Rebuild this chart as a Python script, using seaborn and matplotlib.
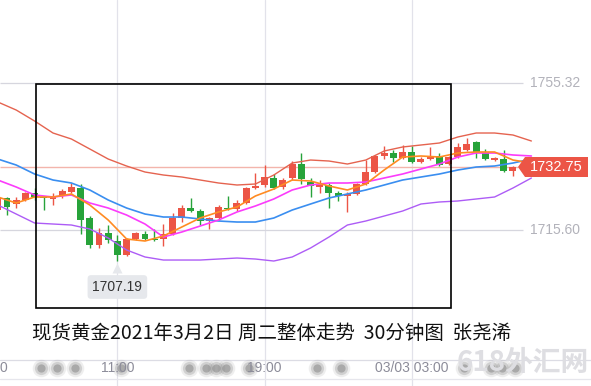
import numpy as np
import pandas as pd
import matplotlib
matplotlib.use("Agg")
import matplotlib.pyplot as plt
import matplotlib.patches as mpatches
import seaborn as sns

# === Data: 30-minute candles ===
opens = [1721.01, 1724.25, 1722.63, 1723.71, 1725.60, 1724.52, 1723.98, 1724.79, 1725.87, 1726.95,
         1718.85, 1711.55, 1714.79, 1712.63, 1708.85, 1713.17, 1714.52, 1713.17, 1713.17, 1714.52,
         1718.85, 1721.55, 1720.74, 1718.04, 1718.85, 1721.55, 1721.28, 1722.90, 1726.95, 1727.76,
         1729.65, 1727.22, 1729.65, 1733.44, 1728.57, 1727.22, 1727.76, 1725.60, 1724.79, 1725.33,
         1728.03, 1731.28, 1735.60, 1736.41, 1735.06, 1736.68, 1733.98, 1734.79, 1735.60, 1733.44,
         1735.33, 1737.22, 1739.38, 1736.41, 1734.52, 1734.79, 1731.55]
highs = [1724.79, 1724.52, 1724.52, 1725.87, 1726.95, 1724.79, 1725.60, 1726.68, 1728.30, 1728.03,
         1719.39, 1716.14, 1716.96, 1714.25, 1713.44, 1715.06, 1715.33, 1715.87, 1717.23, 1720.20,
         1722.36, 1724.25, 1721.28, 1719.12, 1722.36, 1724.79, 1723.71, 1727.22, 1731.01, 1733.17,
         1730.74, 1729.65, 1734.25, 1736.41, 1729.65, 1729.11, 1728.30, 1726.14, 1725.87, 1728.30,
         1734.52, 1735.87, 1738.30, 1737.22, 1738.57, 1738.30, 1735.33, 1738.03, 1736.41, 1735.60,
         1739.11, 1740.46, 1739.65, 1737.49, 1735.33, 1737.22, 1732.90]
lows = [1720.47, 1719.66, 1721.55, 1723.44, 1723.71, 1721.01, 1722.36, 1724.25, 1725.60, 1714.52,
        1710.74, 1710.74, 1712.09, 1707.19, 1708.58, 1712.90, 1712.90, 1712.63, 1711.28, 1714.25,
        1717.77, 1720.47, 1716.96, 1715.87, 1718.31, 1721.01, 1720.74, 1722.63, 1726.68, 1727.22,
        1726.68, 1726.68, 1729.11, 1728.03, 1724.52, 1725.60, 1721.55, 1723.44, 1720.47, 1725.06,
        1727.76, 1731.01, 1734.79, 1733.98, 1734.79, 1733.71, 1733.71, 1734.52, 1732.90, 1733.17,
        1735.06, 1736.95, 1735.06, 1734.52, 1734.25, 1731.28, 1730.19]
closes = [1724.25, 1721.82, 1723.71, 1725.60, 1724.52, 1724.25, 1724.79, 1726.14, 1727.22, 1718.31,
          1711.55, 1714.79, 1712.90, 1708.85, 1713.17, 1714.79, 1713.17, 1712.90, 1714.52, 1718.85,
          1721.55, 1720.74, 1718.04, 1718.85, 1721.82, 1721.28, 1722.90, 1726.95, 1727.49, 1729.92,
          1726.95, 1729.11, 1733.44, 1729.38, 1727.49, 1727.76, 1725.60, 1724.79, 1725.33, 1728.03,
          1731.28, 1735.60, 1736.41, 1735.06, 1736.68, 1733.98, 1734.79, 1735.60, 1733.17, 1735.33,
          1738.03, 1738.84, 1736.68, 1734.79, 1735.06, 1731.55, 1732.75]

# === Indicator lines, sampled every 2 candles ===
line_idx = list(range(0, 60, 2))
boll_upper = [1750.19, 1748.02, 1745.05, 1741.81, 1740.19, 1737.49, 1734.78, 1732.89, 1731.27, 1730.46,
              1729.92, 1729.11, 1728.30, 1727.76, 1728.03, 1730.46, 1733.70, 1734.51, 1734.24, 1733.43,
              1734.51, 1736.95, 1738.03, 1738.57, 1739.11, 1740.73, 1741.81, 1741.81, 1741.27, 1739.65]
boll_mid = [1734.78, 1733.16, 1730.73, 1729.11, 1728.30, 1726.41, 1723.71, 1721.54, 1719.92, 1719.11,
            1719.11, 1718.57, 1718.03, 1717.76, 1717.76, 1718.84, 1721.00, 1722.63, 1724.25, 1725.33,
            1726.41, 1727.76, 1729.11, 1729.92, 1730.73, 1731.81, 1732.62, 1732.89, 1733.70, 1734.78]
boll_lower = [1722.36, 1719.92, 1717.49, 1717.22, 1716.95, 1715.87, 1713.44, 1710.20, 1708.31, 1707.49,
              1707.49, 1707.49, 1707.76, 1708.03, 1707.76, 1707.22, 1708.31, 1710.74, 1713.71, 1716.95,
              1718.03, 1719.38, 1720.73, 1722.63, 1723.17, 1723.44, 1723.98, 1724.52, 1726.95, 1729.65]
ma_slow = [1729.11, 1727.22, 1725.06, 1724.52, 1725.06, 1722.90, 1721.54, 1719.65, 1717.22, 1713.71,
           1715.06, 1716.68, 1718.31, 1720.47, 1722.09, 1723.98, 1726.41, 1727.76, 1728.30, 1728.30,
           1728.57, 1729.65, 1730.73, 1732.08, 1733.43, 1735.32, 1736.41, 1736.41, 1735.87, 1735.60]
ma_fast = [1724.52, 1722.90, 1724.52, 1724.52, 1725.33, 1722.36, 1718.30, 1713.17, 1712.63, 1713.98,
           1716.41, 1718.85, 1720.47, 1721.82, 1724.79, 1726.68, 1729.11, 1728.84, 1727.49, 1726.41,
           1728.03, 1731.82, 1735.32, 1735.60, 1735.32, 1736.41, 1736.68, 1736.68, 1734.51, 1733.70]

grid_prices = [1755.32, 1715.60]
time_ticks = [13, 29, 45]
time_labels = ["11:00", "19:00", "03/03 03:00"]
low_price = 1707.19
low_idx = 13
last_price = 1732.75
title = "现货黄金2021年3月2日 周二整体走势  30分钟图  张尧浠"

# === Style ===
sns.set_style("white")
plt.rcParams['font.family'] = ['Liberation Sans', 'Noto Sans CJK SC', 'DejaVu Sans']

UP = "#ec5546"
DOWN = "#27a33a"

fig = plt.figure(figsize=(5.91, 3.86), dpi=100)
ax = fig.add_axes([0, 0, 1, 1])
ax.set_xlim(0.239, 64.48)
ax.set_ylim(1673.45, 1777.75)
ax.axis("off")

# gridlines
for t in time_ticks:
    ax.axvline(t, color="#e2e2ea", lw=0.9, zorder=0)
x_right = (523 + 2.2) / 9.2
ax.hlines(grid_prices, 0.239, x_right, color="#d6d6de", lw=0.9, zorder=0)
ax.axhline(1673.45 + (1777.75 - 1673.45) * (1 - 360 / 386), color="#dcdce4", lw=0.9, zorder=0)
ax.axhline(1673.45 + (1777.75 - 1673.45) * (1 - 379 / 386), color="#e6e6ec", lw=0.9, zorder=0)
ax.hlines(last_price, 0.239, (518 + 2.2) / 9.2, color="#f3b5ac", lw=1.0, zorder=1)

# blurred dots along the time axis (screenshot artefacts)
dot_px = [41, 57, 75, 121, 189, 206, 216, 226, 249, 317, 341, 464, 491, 502, 515]
y_lab = 1 - 368 / 386
for s, a in [(160, 0.12), (90, 0.25), (35, 0.45)]:
    ax.scatter(np.array(dot_px) / 591, [y_lab] * len(dot_px), s=s, color="#7a7a7a",
               alpha=a, lw=0, transform=ax.transAxes, zorder=1)

# candles
df = pd.DataFrame({"o": opens, "h": highs, "l": lows, "c": closes})
df["x"] = np.arange(len(df))
df["color"] = np.where(df["c"] >= df["o"], UP, DOWN)
ax.vlines(df["x"], df["l"], df["h"], colors=df["color"], lw=1.0, zorder=2)
body = (df["c"] - df["o"]).abs().clip(lower=0.3)
ax.bar(df["x"], body, bottom=df[["o", "c"]].min(axis=1), width=0.76,
       color=df["color"], linewidth=0, zorder=2)

# indicator lines
lines = [(boll_upper, "#e5634f", 1.0), (boll_mid, "#3a8ef0", 1.2), (boll_lower, "#ad5cf6", 1.0),
         (ma_slow, "#fb3cfb", 1.2), (ma_fast, "#ff8b22", 1.2)]
for vals, col, lw in lines:
    sns.lineplot(x=line_idx, y=vals, color=col, lw=lw, ax=ax, zorder=3)

# framed annotation box
ax.add_patch(mpatches.Rectangle((36 / 591, 1 - 308 / 386), 415 / 591, 224 / 386,
                                transform=ax.transAxes, fill=False, ec="black", lw=1.2, zorder=5))

# low marker label
ax.plot([low_idx], [1 - 268 / 386], marker="^", ms=7, color="#e6e8ec", mec="none",
        transform=ax.get_xaxis_transform(), zorder=4)
ax.text(low_idx, 1 - 287 / 386, f"{low_price:.2f}", transform=ax.get_xaxis_transform(),
        ha="center", va="center", fontsize=10, color="#333333", zorder=5,
        bbox=dict(boxstyle="round,pad=0.35,rounding_size=0.25", fc="#e6e8ec", ec="none"))

# right price labels
for p in grid_prices:
    ax.text(530 / 591, p, f"{p:.2f}", transform=ax.get_yaxis_transform(),
            ha="left", va="center", fontsize=10, color="#b2b2ba")

# last price tag
tag = np.array([[518, 167], [525, 157], [588, 157], [588, 177], [525, 177]], dtype=float)
tag[:, 0] /= 591
tag[:, 1] = 1 - tag[:, 1] / 386
ax.add_patch(mpatches.Polygon(tag, closed=True, transform=ax.transAxes,
                              fc=UP, ec="none", zorder=6))
ax.text(556 / 591, last_price, f"{last_price:.2f}", transform=ax.get_yaxis_transform(),
        ha="center", va="center", fontsize=10.5, color="white", zorder=7)

# time labels
ax.text(3 / 591, y_lab, "0", transform=ax.transAxes, ha="center", va="center",
        fontsize=10, color="#8c8c99", zorder=2)
for t, lab in zip(time_ticks, time_labels):
    ax.text(t, y_lab, lab, transform=ax.get_xaxis_transform(), ha="center", va="center",
            fontsize=10, color="#8c8c99", zorder=2)

# watermark
fig.text(523 / 591, 1 - 363 / 386, "618外汇网", ha="center", va="center", fontsize=20,
         fontweight="bold", color="#dedee2", family=["Noto Sans CJK SC", "DejaVu Sans"], zorder=0)

# title
fig.text(32 / 591, 1 - 333 / 386, title, ha="left", va="center", fontsize=14,
         color="#111111", family=["Noto Sans CJK SC", "DejaVu Sans"])

fig.savefig("out.png", dpi=100, facecolor="white")
